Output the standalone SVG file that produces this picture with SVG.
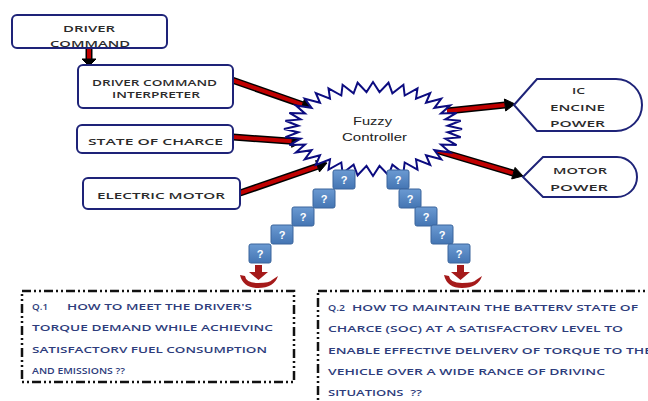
<svg xmlns="http://www.w3.org/2000/svg" width="648" height="401" viewBox="0 0 648 401">
<defs>
<style>
.box{fill:#fff;stroke:#1e2378;stroke-width:2}
.lbl{font-family:"Open Sans","DejaVu Sans",sans-serif;font-weight:600;font-size:9.5px;fill:#2b2b2b;text-anchor:middle}
.fz{font-family:"Liberation Sans",Arial,sans-serif;font-size:11px;fill:#222;text-anchor:middle}
.sq{fill:url(#qg);stroke:#3a659c;stroke-width:1}
.qt{font-family:"Liberation Sans",Arial,sans-serif;font-weight:bold;font-size:11px;fill:#fff;text-anchor:middle}
.sho{stroke:#000;stroke-width:7;fill:none}
.sh{stroke:#c00000;stroke-width:4;fill:none}
.hd{fill:#000;stroke:#000;stroke-width:1;stroke-linejoin:round}
.qbox{fill:none;stroke:#111;stroke-width:2.5;stroke-dasharray:9 3 2 3 2 3}
.qtx{font-family:"Open Sans","DejaVu Sans",sans-serif;font-weight:600;font-size:9.5px;fill:#2e3d7c}
.dn{fill:#a51a1a}
</style>
<linearGradient id="qg" x1="0" y1="0" x2="0" y2="1">
<stop offset="0" stop-color="#6b9ad2"/>
<stop offset="1" stop-color="#4475b3"/>
</linearGradient>
</defs>
<rect width="648" height="401" fill="#fff"/>

<g id="connectors">
<g id="a-dc-dci">
<line class="sho" x1="89" y1="48" x2="89" y2="59"/>
<line class="sh" x1="89" y1="48" x2="89" y2="59"/>
<polygon class="hd" points="82,59 96,59 89,66"/>
</g>
<g id="a-dci-fc">
<line class="sho" x1="232" y1="80" x2="302.6" y2="104.7"/>
<line class="sh" x1="232" y1="80" x2="302.6" y2="104.7"/>
<polygon class="hd" points="300.6,110.4 304.5,99 312,108"/>
</g>
<g id="a-soc-fc">
<line class="sho" x1="233" y1="137" x2="292" y2="141.3"/>
<line class="sh" x1="233" y1="137" x2="292" y2="141.3"/>
<polygon class="hd" points="291.6,147.3 292.5,135.3 302,142"/>
</g>
<g id="a-em-fc">
<line class="sho" x1="240" y1="193" x2="317.6" y2="166.3"/>
<line class="sh" x1="240" y1="193" x2="317.6" y2="166.3"/>
<polygon class="hd" points="319.5,171.9 315.6,160.6 327,163"/>
</g>
<g id="a-fc-ic">
<line class="sho" x1="447" y1="111" x2="505" y2="105"/>
<line class="sh" x1="447" y1="111" x2="505" y2="105"/>
<polygon class="hd" points="505.7,111 504.4,99 515,104"/>
</g>
<g id="a-fc-motor">
<line class="sho" x1="432" y1="149" x2="513.4" y2="173.2"/>
<line class="sh" x1="432" y1="149" x2="513.4" y2="173.2"/>
<polygon class="hd" points="511.7,178.9 515.1,167.4 523,176"/>
</g>
</g>

<g id="driver-command">
<rect class="box" x="12" y="15" width="155" height="33" rx="5"/>
<text class="lbl" x="89" y="31.5" textLength="52" lengthAdjust="spacingAndGlyphs">DRIVER</text>
<text class="lbl" x="90" y="46.5" textLength="80" lengthAdjust="spacingAndGlyphs">COMMAND</text>
</g>

<g id="driver-command-interpreter">
<rect class="box" x="78" y="65" width="155" height="43" rx="5"/>
<text class="lbl" x="154.5" y="86" textLength="125" lengthAdjust="spacingAndGlyphs">DRIVER COMMAND</text>
<text class="lbl" x="156" y="97.5" textLength="88" lengthAdjust="spacingAndGlyphs">INTERPRETER</text>
</g>

<g id="state-of-charge">
<rect class="box" x="77" y="125" width="156" height="28" rx="5"/>
<text class="lbl" x="155.5" y="145" textLength="135" lengthAdjust="spacingAndGlyphs">STATE OF CHARCE</text>
</g>

<g id="electric-motor">
<rect class="box" x="83" y="178" width="157" height="31" rx="5"/>
<text class="lbl" x="161" y="199" textLength="128" lengthAdjust="spacingAndGlyphs">ELECTRIC MOTOR</text>
</g>

<g id="fuzzy-controller">
<polygon fill="#fff" stroke="#0c0c80" stroke-width="2" stroke-linejoin="miter" points="462,129 447.7,125.8 460.7,120.8 445.4,119.4 456.6,112.9 441,113.4 450.1,105.5 434.4,107.8 441.2,98.8 426,102.8 430.2,93 416,98.7 417.5,88.3 404.7,95.5 403.4,84.8 392.4,93.3 388.5,82.7 379.5,92.1 373,82 366.5,92.1 357.6,82.7 353.6,93.3 342.6,84.8 341.3,95.5 328.5,88.3 330,98.7 315.8,93 320,102.8 304.8,98.8 311.6,107.8 295.9,105.5 305,113.4 289.4,112.9 300.6,119.4 285.4,120.8 298.3,125.8 284,129 298.3,132.2 285.4,137.2 300.6,138.6 289.4,145.1 305,144.6 295.9,152.5 311.6,150.2 304.8,159.2 320,155.2 315.8,165 330,159.3 328.5,169.7 341.3,162.5 342.6,173.2 353.6,164.7 357.6,175.3 366.5,165.9 373,176 379.5,165.9 388.5,175.3 392.4,164.7 403.4,173.2 404.7,162.5 417.5,169.7 416,159.3 430.2,165 426,155.2 441.2,159.2 434.4,150.2 450.1,152.5 441,144.6 456.6,145.1 445.4,138.6 460.7,137.2 447.7,132.2"/>
<text class="fz" x="372.5" y="125" textLength="39" lengthAdjust="spacingAndGlyphs">Fuzzy</text>
<text class="fz" x="374.5" y="141" textLength="65" lengthAdjust="spacingAndGlyphs">Controller</text>
</g>

<g id="ic-engine-power">
<path class="box" d="M514,105 L537,79 L616,79 A26,26 0 0 1 616,131 L537,131 Z"/>
<text class="lbl" x="578.5" y="93.5" textLength="13" lengthAdjust="spacingAndGlyphs">IC</text>
<text class="lbl" x="577.5" y="110.5" textLength="55" lengthAdjust="spacingAndGlyphs">ENCINE</text>
<text class="lbl" x="577.5" y="127" textLength="55" lengthAdjust="spacingAndGlyphs">POWER</text>
</g>

<g id="motor-power">
<path class="box" d="M523,177 L543,157 L617,157 A20,20 0 0 1 617,197 L543,197 Z"/>
<text class="lbl" x="580" y="174" textLength="54" lengthAdjust="spacingAndGlyphs">MOTOR</text>
<text class="lbl" x="579" y="190.5" textLength="58" lengthAdjust="spacingAndGlyphs">POWER</text>
</g>

<g id="question-stairs-left">
<rect class="sq" x="333" y="170" width="22" height="19" rx="2"/><text class="qt" x="344" y="184">?</text>
<rect class="sq" x="313" y="189" width="22" height="19" rx="2"/><text class="qt" x="324" y="203">?</text>
<rect class="sq" x="292" y="207" width="22" height="19" rx="2"/><text class="qt" x="303" y="221">?</text>
<rect class="sq" x="271" y="225" width="22" height="19" rx="2"/><text class="qt" x="282" y="239">?</text>
<rect class="sq" x="249" y="244" width="22" height="19" rx="2"/><text class="qt" x="260" y="258">?</text>
<g id="down-left">
<rect class="dn" x="255" y="265" width="7" height="8"/>
<polygon class="dn" points="249,272 268,272 258.5,280"/>
<path class="dn" d="M240,275 Q243,288 258,288 Q274,288 278,276 L272,280 Q270,283 258,283 Q246,283 245,276 Z"/>
</g>
</g>

<g id="question-stairs-right">
<rect class="sq" x="387" y="170" width="22" height="19" rx="2"/><text class="qt" x="398" y="184">?</text>
<rect class="sq" x="399" y="189" width="22" height="19" rx="2"/><text class="qt" x="410" y="203">?</text>
<rect class="sq" x="415" y="207" width="22" height="19" rx="2"/><text class="qt" x="426" y="221">?</text>
<rect class="sq" x="431" y="225" width="22" height="19" rx="2"/><text class="qt" x="442" y="239">?</text>
<rect class="sq" x="448" y="244" width="22" height="19" rx="2"/><text class="qt" x="459" y="258">?</text>
<g id="down-right">
<rect class="dn" x="457" y="265" width="7" height="8"/>
<polygon class="dn" points="451,272 470,272 460.5,280"/>
<path class="dn" d="M444,275 Q447,288 462,288 Q478,288 482,276 L476,280 Q474,283 462,283 Q450,283 449,276 Z"/>
</g>
</g>

<g id="q1">
<rect class="qbox" x="22" y="291" width="272" height="91"/>
<text class="qtx" x="32" y="309.5" textLength="16" lengthAdjust="spacingAndGlyphs">Q.1</text>
<text class="qtx" x="67" y="309.5" textLength="185" lengthAdjust="spacingAndGlyphs">HOW TO MEET THE DRIVER'S</text>
<text class="qtx" x="32" y="331" textLength="241" lengthAdjust="spacingAndGlyphs">TORQUE DEMAND WHILE ACHIEVINC</text>
<text class="qtx" x="32" y="353" textLength="235" lengthAdjust="spacingAndGlyphs">SATISFACTORV FUEL CONSUMPTION</text>
<text class="qtx" x="32" y="374" textLength="93" lengthAdjust="spacingAndGlyphs">AND EMISSIONS ??</text>
</g>

<g id="q2">
<rect class="qbox" x="318" y="291" width="345" height="125"/>
<text class="qtx" x="328" y="310.5" textLength="17" lengthAdjust="spacingAndGlyphs">Q.2</text>
<text class="qtx" x="352" y="310.5" textLength="286" lengthAdjust="spacingAndGlyphs">HOW TO MAINTAIN THE BATTERV STATE OF</text>
<text class="qtx" x="328" y="332" textLength="295" lengthAdjust="spacingAndGlyphs">CHARCE (SOC) AT A SATISFACTORV LEVEL TO</text>
<text class="qtx" x="328" y="353.5" textLength="324" lengthAdjust="spacingAndGlyphs">ENABLE EFFECTIVE DELIVERV OF TORQUE TO THE</text>
<text class="qtx" x="328" y="375" textLength="277" lengthAdjust="spacingAndGlyphs">VEHICLE OVER A WIDE RANCE OF DRIVINC</text>
<text class="qtx" x="328" y="396" textLength="94" lengthAdjust="spacingAndGlyphs" xml:space="preserve">SITUATIONS  ??</text>
</g>
</svg>
